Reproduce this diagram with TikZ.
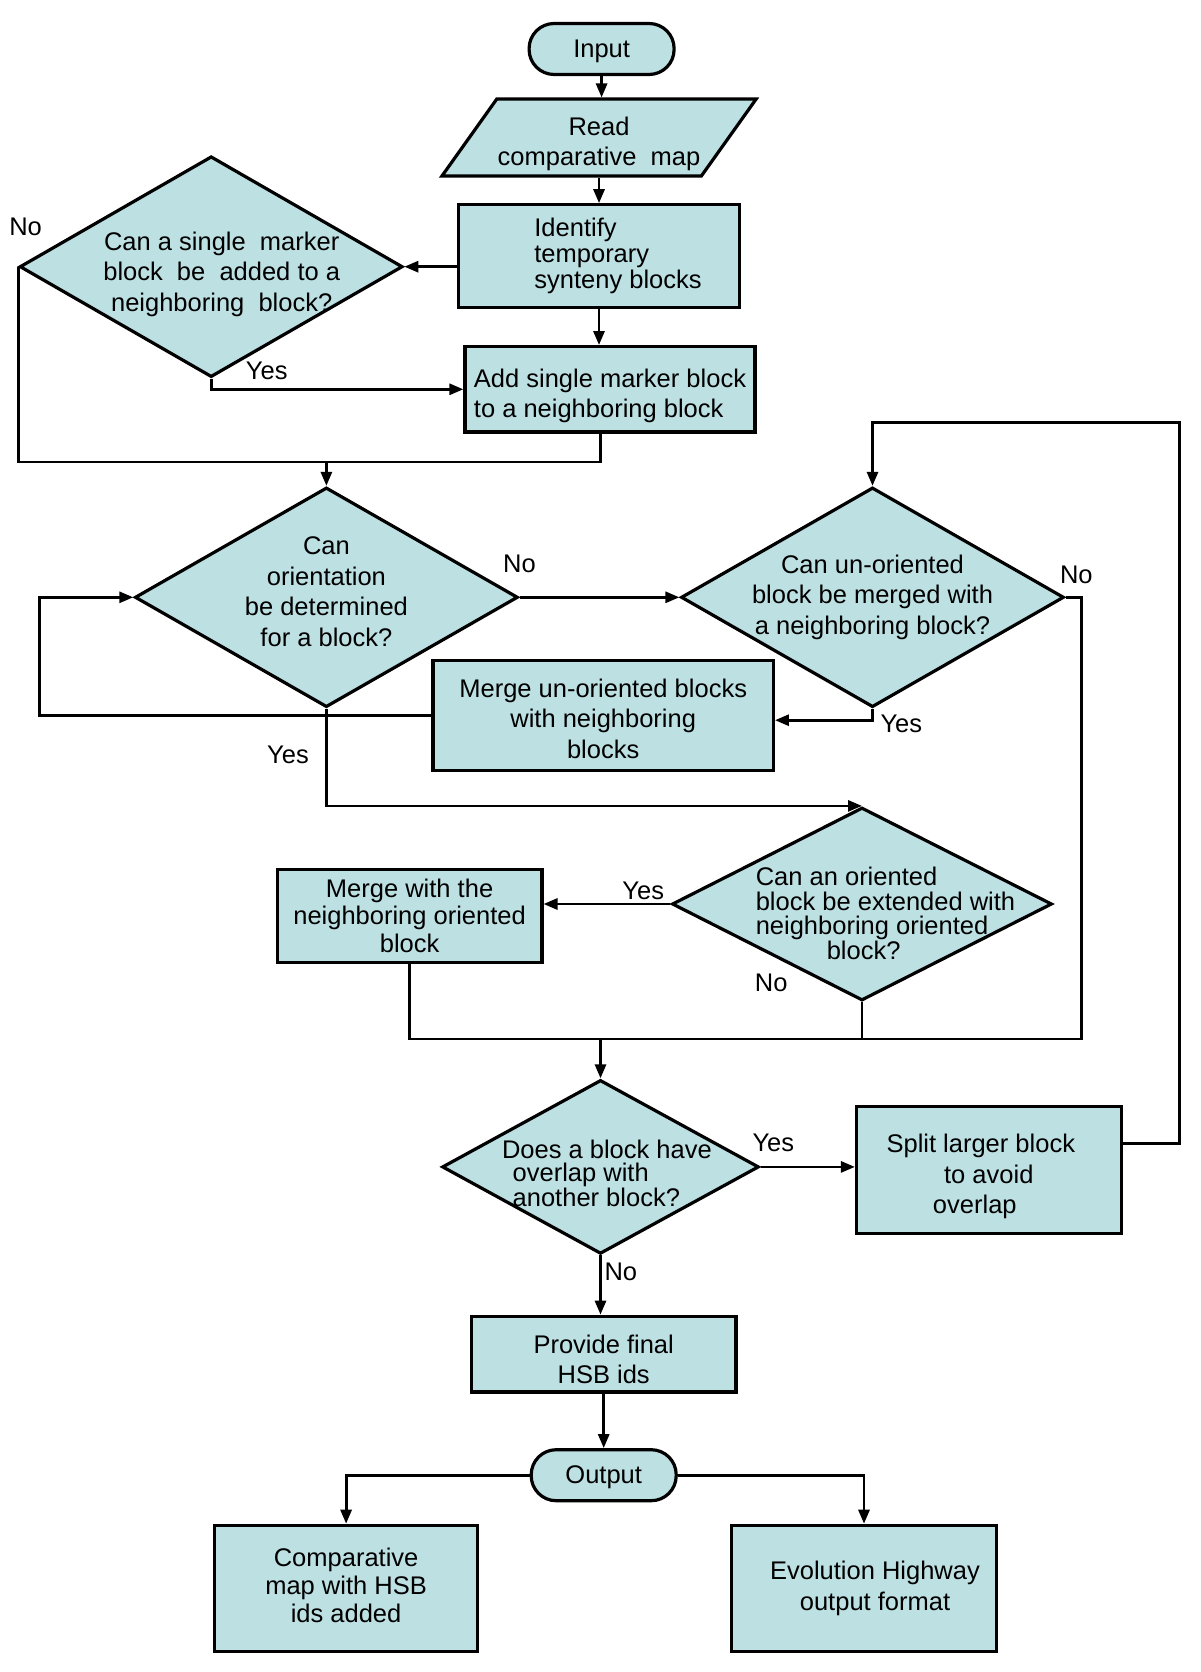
\documentclass[tikz,border=0pt]{standalone}
\usepackage{fontspec}
\setmainfont{Liberation Sans}
\usetikzlibrary{arrows.meta,calc,positioning,shapes.geometric}
\definecolor{hsbfill}{HTML}{BDE0E3}
% invisible strut on a first line, pushes the text down a bit
\newcommand{\capgap}[1]{\rule{0pt}{#1}}

\begin{document}
\begin{tikzpicture}[
    x=1pt, y=-1pt,
    font=\fontsize{25.5}{30.5}\selectfont,
    process/.style={draw, fill=hsbfill, line width=3.2pt, align=center, inner sep=0pt},
    terminal/.style={process, rounded corners=25pt, minimum width=145pt, minimum height=51pt},
    datainput/.style={process, trapezium, trapezium left angle=51, trapezium right angle=129,
      trapezium stretches=true},
    decision/.style={process, diamond, inner sep=-40pt},
    answer/.style={inner sep=0pt},
    flow/.style={line width=2.8pt, -{Triangle[length=14pt,width=11pt]}},
    link/.style={line width=2.8pt}
  ]
    \useasboundingbox (0,0) rectangle (1200,1672);

    % main column
    \node[terminal] (input) at (601.6,49) {\capgap{22.7pt}Input};
    \node[datainput, minimum width=315pt, minimum height=77pt] (read) at (599,137.6)
      {\capgap{31.3pt}Read\\comparative~ map};
    \node[process, minimum width=280.5pt, minimum height=102.4pt, align=left,
      font=\fontsize{25.5}{25.6}\selectfont] (identify) at (599,256)
      {\hspace*{38pt}Identify\\\hspace*{38pt}temporary\\\hspace*{38pt}synteny blocks};
    \node[process, minimum width=290pt, minimum height=85.3pt, align=left] (addsingle) at (610,389.3)
      {\capgap{31.3pt}Add single marker block\\to a neighboring block};
    \node[decision, minimum width=383pt, minimum height=220.8pt, shape aspect=1.73] (canadd) at (211.2,266.7)
      {\hspace*{21pt}\capgap{33.5pt}Can a single~ marker\\\hspace*{21pt}block~ be~ added to a\\
       \hspace*{21pt}neighboring~ block?};

    % orientation loop
    \node[decision, minimum width=383pt, minimum height=219.7pt, shape aspect=1.74] (canorient) at (326.4,597.3)
      {Can\\orientation\\be determined\\for a block?\rule[-11.8pt]{0pt}{11.8pt}};
    \node[decision, minimum width=383pt, minimum height=219.7pt, shape aspect=1.74]
      (canmerge) at (872.5,597.3) {Can un-oriented\\block be merged with\\a neighboring block?};
    \node[process, minimum width=340.3pt, minimum height=109.8pt] (mergeun) at (603.2,715.2)
      {\capgap{25pt}Merge un-oriented blocks\\with neighboring\\blocks};
    \node[decision, minimum width=380pt, minimum height=193pt, shape aspect=1.97, align=left,
      font=\fontsize{25.5}{24.5}\selectfont] (canextend) at (862,904)
      {\hspace*{47pt}\capgap{37.7pt}Can an oriented\\\hspace*{47pt}block be extended with\\
       \hspace*{47pt}neighboring oriented\\\hspace*{118pt}block?};
    \node[process, minimum width=264.6pt, minimum height=92.8pt, font=\fontsize{25.5}{27.7}\selectfont]
      (mergeor) at (409.6,915.7) {Merge with the\\neighboring oriented\\block};

    % overlap check and output
    \node[decision, minimum width=316.8pt, minimum height=173.9pt, shape aspect=1.82,
      align=left, font=\fontsize{25.5}{22.4}\selectfont] (overlap) at (600.5,1166.9)
      {\hspace*{12.8pt}\capgap{31.3pt}Does a block have\\\hspace*{23.5pt}overlap with\\
       \hspace*{23.5pt}another block?};
    \node[process, minimum width=264.6pt, minimum height=127pt] (split) at (988.8,1169.6)
      {\capgap{32.5pt}Split larger block\hspace*{16pt}\\to avoid\hspace*{34pt}\\overlap\hspace*{28pt}};
    \node[process, minimum width=264.5pt, minimum height=75.7pt] (provide) at (603.7,1354.1)
      {\capgap{29pt}Provide final\\HSB ids};
    \node[terminal] (output) at (603.7,1475.2) {\capgap{22.7pt}Output};
    \node[process, minimum width=263.5pt, minimum height=126pt, font=\fontsize{25.5}{28.3}\selectfont]
      (compmap) at (346.1,1588.3) {Comparative\\map with HSB\\ids added\rule[-6.4pt]{0pt}{6.4pt}};
    \node[process, minimum width=264.6pt, minimum height=126pt] (evohwy) at (864,1588.3)
      {\hspace*{22pt}Evolution Highway\\\hspace*{22pt}output format};

    % answers
    \node[answer] (no1) at (25.6,227.2) {No};
    \node[answer] (yes1) at (266.7,371.2) {Yes};
    \node[answer] (no2) at (519.5,564.3) {No};
    \node[answer] (no3) at (1076.3,575) {No};
    \node[answer] (yes2) at (901.3,724.3) {Yes};
    \node[answer] (yes3) at (288,755.2) {Yes};
    \node[answer] (yes4) at (643.2,890.7) {Yes};
    \node[answer] (no4) at (771.2,982.4) {No};
    \node[answer] (yes5) at (773.3,1142.4) {Yes};
    \node[answer] (no5) at (620.8,1271.5) {No};

    \coordinate (join1) at (326.4,461.9);
    \coordinate (join2) at (600.5,1039);

    % connectors
    \draw[flow] (input.south) -- (input.south |- read.north);
    \draw[flow] (read.south) -- (read.south |- identify.north);
    \draw[flow] (identify.west |- canadd.east) -- (canadd.east);
    \draw[flow] (identify.south) -- (identify.south |- addsingle.north);
    \draw[flow] (canadd.south) |- (addsingle.west);
    \draw[link] (canadd.west) |- (join1) -| ([xshift=-9.5pt]addsingle.south);
    \draw[flow] (join1) -- (canorient.north);
    \draw[flow] (canorient.east) -- (canmerge.west);
    \draw[flow] (canmerge.south) |- ([yshift=-5pt]mergeun.east);
    \draw[flow] (mergeun.west) -| ([xshift=-94pt]canorient.west) -- (canorient.west);
    \draw[flow] (canorient.south) |- (canextend.north);
    \draw[flow] (canextend.west) -- (canextend.west -| mergeor.east);
    \draw[link] (canmerge.east) -- ++(16,0) |- (join2 -| mergeor.south) -- (mergeor.south);
    \draw[link] (canextend.south) -- (canextend.south |- join2);
    \draw[flow] (join2) -- (overlap.north);
    \draw[flow] (overlap.east) -- (overlap.east -| split.west);
    \draw[flow] ([yshift=26pt]split.east) -- ++(56.5,0) |- ([yshift=63pt]canmerge.north) -- (canmerge.north);
    \draw[flow] (overlap.south) -- (overlap.south |- provide.north);
    \draw[flow] (provide.south) -- (provide.south |- output.north);
    \draw[flow] (output.west) -| (compmap.north);
    \draw[flow] (output.east) -| (evohwy.north);
  \end{tikzpicture}
\end{document}
